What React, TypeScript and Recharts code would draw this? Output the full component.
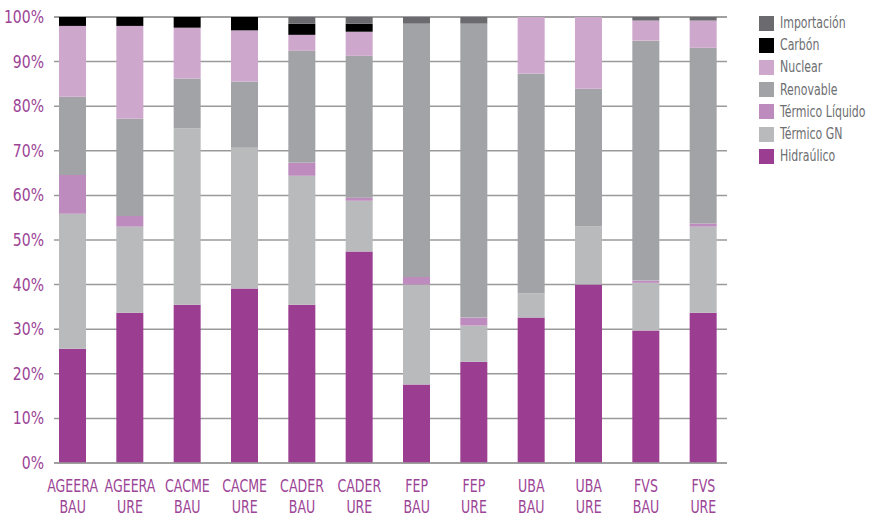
import { BarChart, Bar, XAxis, YAxis, CartesianGrid } from 'recharts';

// 12 scenarios, share of generation by source (%)
const categories = [
  'AGEERA BAU', 'AGEERA URE', 'CACME BAU', 'CACME URE', 'CADER BAU', 'CADER URE',
  'FEP BAU', 'FEP URE', 'UBA BAU', 'UBA URE', 'FVS BAU', 'FVS URE',
];

const hidraulico = [25.6, 33.7, 35.5, 39.1, 35.5, 47.4, 17.6, 22.7, 32.6, 40.0, 29.7, 33.7];
const termicoGN = [30.3, 19.3, 39.5, 31.6, 28.9, 11.4, 22.4, 8.1, 5.4, 13.0, 10.7, 19.3];
const termicoLiquido = [8.7, 2.4, 0, 0, 2.9, 0.7, 1.7, 1.8, 0, 0, 0.5, 0.7];
const renovable = [17.5, 21.8, 11.2, 14.8, 25.1, 31.8, 56.8, 65.9, 49.3, 30.9, 53.8, 39.4];
const nuclear = [15.9, 20.8, 11.4, 11.5, 3.6, 5.4, 0, 0, 12.7, 16.1, 4.5, 6.1];
const carbon = [2.0, 2.0, 2.4, 3.0, 2.5, 1.8, 0, 0, 0, 0, 0, 0];
const importacion = [0, 0, 0, 0, 1.5, 1.5, 1.5, 1.5, 0, 0, 0.8, 0.8];

const yTicks = [0, 10, 20, 30, 40, 50, 60, 70, 80, 90, 100];

const PURPLE = '#9c4496';
const FONT = '"DejaVu Sans", "Liberation Sans", sans-serif';

// bottom to top of the stack
const series = [
  { key: 'hidraulico', name: 'Hidraúlico', color: '#9b3d91' },
  { key: 'termicoGN', name: 'Térmico GN', color: '#b9babc' },
  { key: 'termicoLiquido', name: 'Térmico Líquido', color: '#bd8bbd' },
  { key: 'renovable', name: 'Renovable', color: '#a2a3a7' },
  { key: 'nuclear', name: 'Nuclear', color: '#cea8cc' },
  { key: 'carbon', name: 'Carbón', color: '#000000' },
  { key: 'importacion', name: 'Importación', color: '#6b6b6f' },
];

const data = categories.map((c, i) => ({
  name: c,
  hidraulico: hidraulico[i],
  termicoGN: termicoGN[i],
  termicoLiquido: termicoLiquido[i],
  renovable: renovable[i],
  nuclear: nuclear[i],
  carbon: carbon[i],
  importacion: importacion[i],
}));

// two-line category label, squeezed to look like the condensed face of the original
function CategoryTick({ x, y, payload }: { x?: number; y?: number; payload?: { value: string } }) {
  const [top, bottom] = String(payload?.value ?? '').split(' ');
  const common = {
    textAnchor: 'middle' as const,
    fill: PURPLE,
    fontSize: 18,
    fontFamily: FONT,
    transform: 'scale(0.7,1)',
  };
  return (
    <g transform={`translate(${x},${y})`}>
      <text {...common} x={0} y={29}>{top}</text>
      <text {...common} x={0} y={50}>{bottom}</text>
    </g>
  );
}

function PercentTick({ x, y, payload }: { x?: number; y?: number; payload?: { value: number } }) {
  return (
    <g transform={`translate(${x},${y})`}>
      <text textAnchor="end" dy={6} fill={PURPLE} fontSize={18} fontFamily={FONT} transform="scale(0.78,1)">
        {`${payload?.value}%`}
      </text>
    </g>
  );
}

function SideLegend() {
  const items = [...series].reverse();
  return (
    <div style={{ position: 'absolute', left: 759, top: 12, fontFamily: FONT }}>
      {items.map((s) => (
        <div key={s.key} style={{ display: 'flex', alignItems: 'center', height: 22.2, whiteSpace: 'nowrap' }}>
          <span style={{ width: 15, height: 15, background: s.color, display: 'inline-block', flex: 'none' }} />
          <span
            style={{
              marginLeft: 6,
              fontSize: 15,
              color: '#6d6e71',
              display: 'inline-block',
              transform: 'scaleX(0.73)',
              transformOrigin: 'left center',
            }}
          >
            {s.name}
          </span>
        </div>
      ))}
    </div>
  );
}

export default function App() {
  return (
    <div style={{ position: 'absolute', left: 0, top: 0, width: 869, height: 517, background: '#fff' }}>
      <BarChart
        width={869}
        height={517}
        data={data}
        margin={{ top: 17, right: 142, left: 0, bottom: 0 }}
        barSize={27}
      >
        <CartesianGrid vertical={false} stroke="#9a9a9a" strokeWidth={1.5} />
        <XAxis
          dataKey="name"
          height={54}
          interval={0}
          padding={{ left: -10, right: -5 }}
          axisLine={{ stroke: '#9a9a9a', strokeWidth: 1.5 }}
          tickLine={false}
          tickSize={0}
          tickMargin={0}
          tick={<CategoryTick />}
        />
        <YAxis
          width={54}
          domain={[0, 100]}
          ticks={yTicks}
          interval={0}
          axisLine={false}
          tickLine={false}
          tickSize={0}
          tickMargin={10}
          tick={<PercentTick />}
        />
        {series.map((s) => (
          <Bar
            key={s.key}
            dataKey={s.key}
            name={s.name}
            stackId="a"
            fill={s.color}
            isAnimationActive={false}
          />
        ))}
      </BarChart>
      <SideLegend />
    </div>
  );
}
